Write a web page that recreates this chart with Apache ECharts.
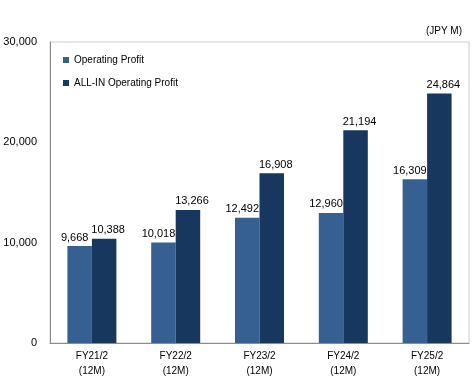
<!DOCTYPE html>
<html><head><meta charset="utf-8">
<script src="https://cdn.jsdelivr.net/npm/echarts@6/dist/echarts.min.js"></script>
<style>html,body{margin:0;padding:0;background:#fff}#c{width:475px;height:380px}</style>
</head><body><div id="c"></div>
<script>
const categories = ['FY21/2\n(12M)', 'FY22/2\n(12M)', 'FY23/2\n(12M)', 'FY24/2\n(12M)', 'FY25/2\n(12M)'];
const operatingProfit = [9668, 10018, 12492, 12960, 16309];
const allInOperatingProfit = [10388, 13266, 16908, 21194, 24864];
const seriesNames = ['Operating Profit', 'ALL-IN Operating Profit'];
const unitLabel = '(JPY M)';

const font = 'Liberation Sans, Arial, sans-serif';
const chart = echarts.init(document.getElementById('c'), null, {renderer: 'canvas'});
const mkLabel = dx => ({show: true, position: 'top', distance: 3, offset: [dx, 0], color: '#000', fontFamily: font, fontSize: 11,
  formatter: p => p.value.toLocaleString('en-US')});
chart.setOption({
  animation: false,
  textStyle: {fontFamily: font},
  title: {text: unitLabel, right: 8, top: 21, textStyle: {fontSize: 10, fontWeight: 'normal', color: '#000', fontFamily: font}},
  legend: {orient: 'vertical', left: 58, top: 50, itemWidth: 6, itemHeight: 6, itemGap: 13, icon: 'rect',
    textStyle: {fontSize: 10, color: '#000', fontFamily: font}, data: seriesNames},
  grid: {left: 50, right: 6, top: 42, bottom: 37, show: true, borderColor: '#cccccc', borderWidth: 1},
  xAxis: {type: 'category', data: categories,
    axisLine: {lineStyle: {color: '#8c8c8c'}}, axisTick: {show: false},
    axisLabel: {color: '#000', fontSize: 10, lineHeight: 15, margin: 6, fontFamily: font}},
  yAxis: {type: 'value', min: 0, max: 30000, interval: 10000,
    splitLine: {show: false}, axisLine: {show: true, lineStyle: {color: '#8c8c8c'}}, axisTick: {show: false},
    axisLabel: {color: '#000', fontSize: 11, margin: 13, fontFamily: font, formatter: v => v.toLocaleString('en-US')}},
  series: [
    {name: seriesNames[0], type: 'bar', data: operatingProfit, barWidth: 24.5, barGap: '0%',
      itemStyle: {color: '#376092'}, label: mkLabel(-5)},
    {name: seriesNames[1], type: 'bar', data: allInOperatingProfit, barWidth: 24.5,
      itemStyle: {color: '#17375e'}, label: mkLabel(4)}
  ]
});
</script></body></html>
